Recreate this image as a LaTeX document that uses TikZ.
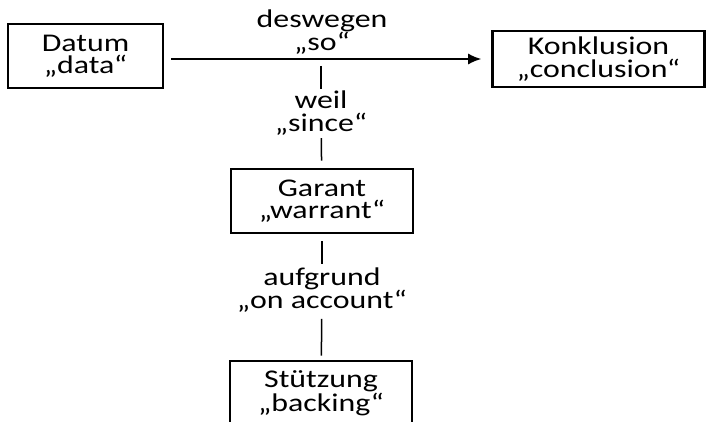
\documentclass[tikz,border=0pt]{standalone}
\usepackage{fontspec}
\setmainfont{Carlito}[FakeStretch=1.25]
\usepackage{tikz}
\usetikzlibrary{shapes,arrows.meta,positioning,calc}

\tikzset{
  argbox/.style={draw, line width=2.6pt, minimum width=#1, minimum height=62pt, align=center, inner sep=0pt},
  arglabel/.style={align=center, inner sep=0pt},
  argline/.style={line width=1.5pt},
}

\begin{document}
\begin{tikzpicture}[x=1pt,y=1pt, font=\fontsize{25.5}{22.5}\selectfont]
  \path[use as bounding box, clip] (0,0) rectangle (707,421);

  % Toulmin boxes
  \node[argbox=155pt, minimum height=64pt] (datum) at (85.5,365) {Datum\\„data“};
  \node[argbox=212pt, minimum height=56pt] (konkl) at (598.5,362) {Konklusion\\„conclusion“};
  \node[argbox=182pt, minimum height=64pt] (garant) at (322,220) {Garant\\„warrant“};
  \node[argbox=182pt, minimum height=64pt] (stuetz) at (321,28) {Stützung\\„backing“};

  % labels on the links
  \node[arglabel] (so) at (322,389) {deswegen\\„so“};
  \node[arglabel] (since) at (321,308) {weil\\„since“};
  \node[arglabel] (account) at (322,131) {aufgrund\\„on account“};

  \draw[argline, -{Latex[length=13pt,width=11pt]}, shorten <=7pt, shorten >=10pt]
    (konkl.west -| datum.east) -- (konkl.west);
  \coordinate (fork) at (since.north |- konkl.west);
  \draw[argline, shorten <=7pt, shorten >=2pt] (fork) -- (since);
  \draw[argline, shorten <=3pt, shorten >=7pt] (since) -- (garant);
  \draw[argline, shorten <=7pt, shorten >=3pt] (garant) -- (account);
  \draw[argline, shorten <=6pt, shorten >=4pt] (account) -- (stuetz);
\end{tikzpicture}
\end{document}
